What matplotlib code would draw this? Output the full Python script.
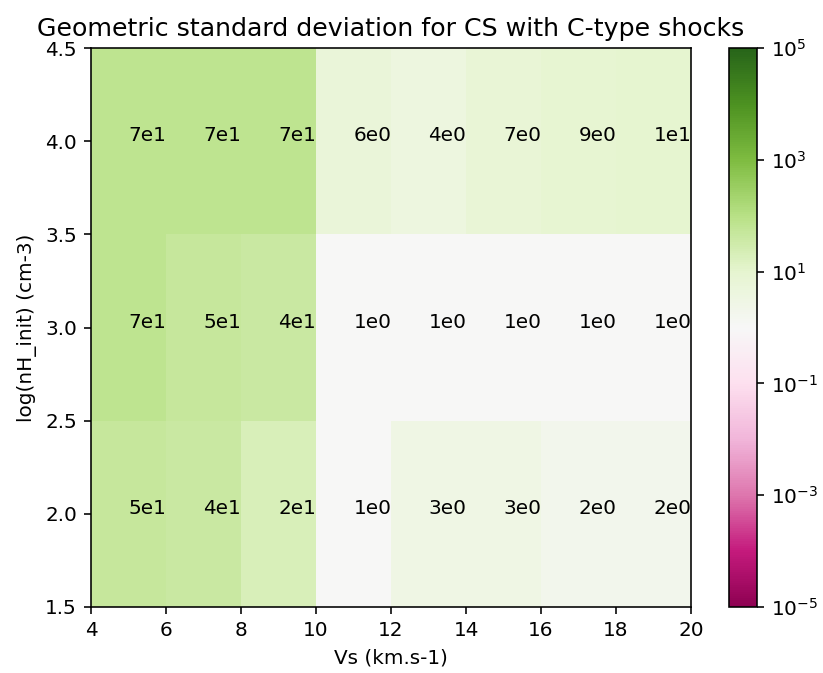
import numpy as np
import matplotlib
matplotlib.use("Agg")
import matplotlib.pyplot as plt
from matplotlib.colors import LogNorm

# shock velocity bin edges (km/s) and log density bin edges
vs_edges = [4, 6, 8, 10, 12, 14, 16, 18, 20]
nh_edges = [1.5, 2.5, 3.5, 4.5]
vs_centers = [5, 7, 9, 11, 13, 15, 17, 19]
nh_centers = [2.0, 3.0, 4.0]

# geometric standard deviation per (nH, Vs) cell
gsd_nh2 = [5e1, 4e1, 2e1, 1e0, 3e0, 3e0, 2e0, 2e0]
gsd_nh3 = [7e1, 5e1, 4e1, 1e0, 1e0, 1e0, 1e0, 1e0]
gsd_nh4 = [7e1, 7e1, 7e1, 6e0, 4e0, 7e0, 9e0, 1e1]

grid = np.array([gsd_nh2, gsd_nh3, gsd_nh4])

W, H, DPI = 823, 673, 144
fig = plt.figure(figsize=(W / DPI, H / DPI), dpi=DPI)
ax = fig.add_axes([91 / W, 1 - 607 / H, 600 / W, 559 / H])
cax = fig.add_axes([729 / W, 1 - 607 / H, 28 / W, 559 / H])

mesh = ax.pcolormesh(vs_edges, nh_edges, grid, cmap="PiYG",
                     norm=LogNorm(vmin=1e-5, vmax=1e5))


def short_sci(v):
    s = "%.0e" % v
    return s.replace("e+0", "e").replace("e-0", "e-")


for i, y in enumerate(nh_centers):
    for j, x in enumerate(vs_centers):
        ax.text(x, y, short_sci(grid[i, j]), fontsize=10)

ax.set_xticks([4, 6, 8, 10, 12, 14, 16, 18, 20])
ax.set_yticks([1.5, 2.0, 2.5, 3.0, 3.5, 4.0, 4.5])
ax.set_xlabel("Vs (km.s-1)")
ax.set_ylabel("log(nH_init) (cm-3)")
ax.set_title("Geometric standard deviation for CS with C-type shocks",
             fontsize=12.6)

cb = fig.colorbar(mesh, cax=cax, ticks=[1e-5, 1e-3, 1e-1, 1e1, 1e3, 1e5])
cb.ax.minorticks_off()

fig.savefig("out.png", dpi=DPI)
